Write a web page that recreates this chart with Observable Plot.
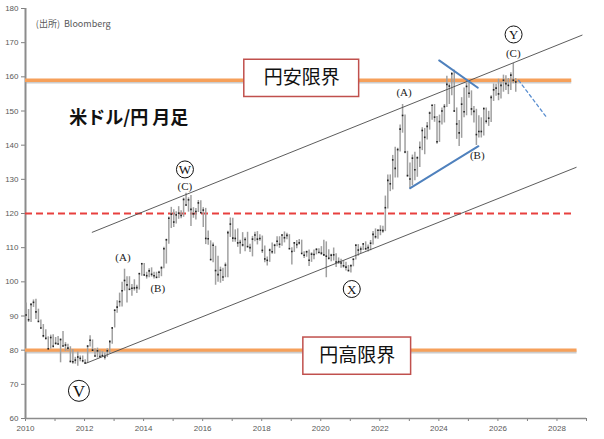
<!DOCTYPE html>
<html>
<head>
<meta charset="utf-8">
<script src="https://cdn.jsdelivr.net/npm/d3@7"></script>
<script src="https://cdn.jsdelivr.net/npm/@observablehq/plot@0.6"></script>
<style>
  html, body { margin: 0; padding: 0; background: #fff; }
  #chart { width: 604px; height: 439px; }
</style>
</head>
<body>
<div id="chart"></div>
<script>
// USD/JPY monthly bars, Jan 2010 onward (one entry per month)
const startYear = 2010;
const high = [
  93.8,91.9,93.5,94.7,94.9,92.0,88.8,87.5,86.0,83.9,84.4,84.5,
  83.7,84.0,83.3,85.5,82.2,81.7,81.0,80.2,77.9,79.5,78.3,78.3,
  77.2,81.2,84.2,83.0,80.4,80.6,79.8,79.6,79.2,80.4,82.8,86.6,
  91.7,94.5,96.7,99.9,103.7,101.5,101.5,99.2,100.6,99.0,102.4,105.4,
  105.4,102.8,103.8,104.1,102.8,102.8,103.1,104.5,110.1,112.5,119.0,121.8,
  121.1,120.5,122.0,120.8,124.5,125.9,124.6,125.3,121.7,121.5,123.8,123.7,
  121.7,121.5,114.9,112.0,111.4,110.4,107.5,104.3,104.0,105.5,114.8,118.7,
  118.6,115.2,115.5,112.2,114.4,112.9,114.5,111.0,113.3,114.5,114.7,113.8,
  113.4,110.5,107.3,109.6,111.4,111.0,113.2,113.2,113.7,114.6,114.2,113.8,
  110.0,111.5,112.1,112.4,112.2,108.8,109.0,109.3,108.5,109.3,109.7,109.7,
  110.3,112.2,111.7,109.4,108.1,109.9,108.2,107.0,106.6,106.1,105.7,104.8,
  105.0,106.7,110.9,110.9,110.2,111.1,111.7,110.8,112.1,114.7,115.5,115.2,
  116.4,116.3,125.1,131.3,131.3,137.0,139.4,139.1,145.9,151.9,148.8,138.2,
  134.8,137.1,137.9,136.6,140.9,145.1,144.9,146.6,149.7,151.7,151.9,148.4,
  148.8,150.9,151.9,160.2,157.9,161.3,161.9,150.9,147.2,153.9,156.7,158.1,
  158.9,155.9,151.3,150.5,148.6,148.0,150.9,150.9,149.9,154.5,157.9,157.8,
  159.3,158.5,160.5,160.3,159.5,161.2,163.9,159.5
];
const low = [
  89.8,88.1,88.1,92.5,89.0,88.2,86.2,83.6,82.9,80.2,80.3,81.1,
  81.5,81.5,76.3,81.0,79.6,79.7,76.3,75.9,75.9,75.3,76.6,76.3,
  76.0,76.1,80.9,79.7,78.0,77.7,77.9,77.9,77.1,77.9,79.0,81.7,
  86.5,90.8,92.6,92.6,97.3,93.8,97.6,95.8,97.3,96.6,97.6,101.6,
  101.8,100.8,101.2,101.4,100.8,101.1,101.0,101.5,103.8,105.2,111.0,115.6,
  115.9,116.9,118.3,118.5,118.9,122.1,120.4,116.2,118.6,118.1,120.3,120.2,
  115.9,110.9,110.7,106.3,105.6,99.0,99.9,99.6,100.1,101.2,101.2,113.0,
  111.6,111.6,110.1,108.1,110.2,108.8,110.0,108.6,107.3,111.7,110.8,111.9,
  108.3,105.6,104.6,105.7,108.1,108.1,110.3,109.8,110.4,111.4,112.3,109.6,
  104.9,108.6,109.7,110.8,108.3,106.8,107.2,104.5,105.7,106.5,107.9,108.4,
  107.7,107.5,101.2,106.4,105.9,106.1,104.2,105.1,104.0,104.0,103.2,102.9,
  102.6,104.4,106.4,107.5,108.3,109.2,109.1,108.7,109.1,110.8,112.5,112.5,
  113.5,114.2,114.7,121.3,126.4,126.9,130.4,130.4,138.0,143.5,137.5,130.6,
  127.2,128.1,129.6,130.6,133.5,138.4,137.2,141.5,144.4,147.3,146.7,140.3,
  140.8,145.9,146.5,151.0,151.9,154.5,149.6,141.7,139.6,142.0,148.0,148.6,
  153.7,148.6,146.5,139.9,142.1,142.1,142.7,146.2,145.5,146.6,152.8,154.3,
  153.0,153.5,155.5,156.0,154.8,156.0,158.0,155.5
];
const close = [
  90.3,88.9,93.4,94.0,91.2,88.4,86.5,84.2,83.5,80.4,83.7,81.1,
  82.0,81.8,83.1,81.2,81.5,80.6,76.7,76.6,77.1,78.0,77.6,76.9,
  76.2,81.2,82.9,80.0,78.3,79.8,78.1,78.4,78.0,79.8,82.5,86.5,
  91.7,92.6,94.2,97.4,100.4,99.1,97.8,98.1,98.2,98.3,102.4,105.3,
  102.0,101.8,103.2,102.2,101.8,101.3,102.8,104.1,109.7,112.3,118.6,119.8,
  117.5,119.6,120.1,119.4,124.1,122.5,124.0,121.2,119.9,120.6,123.1,120.2,
  121.0,112.7,112.6,106.5,110.7,103.3,102.1,103.4,101.4,104.9,114.4,116.9,
  112.8,112.7,111.4,111.5,110.8,112.4,110.3,110.0,112.5,113.7,112.5,112.7,
  109.2,106.7,106.3,109.3,108.8,110.7,111.9,111.0,113.7,112.9,113.6,109.7,
  108.9,111.4,110.9,111.4,108.3,107.8,108.8,106.3,108.1,108.0,109.5,108.6,
  108.4,107.9,107.5,106.9,107.8,107.9,105.8,105.9,105.5,104.7,104.3,103.3,
  104.7,106.6,110.7,109.3,109.6,111.1,109.7,110.0,111.3,113.9,113.2,115.1,
  115.1,115.0,121.7,129.7,128.7,135.7,133.2,138.7,144.7,148.7,138.0,131.1,
  130.1,136.2,132.8,136.3,139.3,144.3,142.3,145.5,149.4,151.7,148.2,141.0,
  146.9,150.0,151.3,157.8,157.3,160.9,150.0,146.2,143.6,152.0,149.8,157.2,
  155.2,150.6,149.9,143.1,144.0,144.0,150.7,147.0,147.9,154.0,156.2,156.7,
  155.0,157.5,159.0,158.0,157.5,160.5,159.0,158.5
];

// reference levels
const yenWeakLimit = 159;   // 円安限界
const yenStrongLimit = 80;  // 円高限界
const midLevel = 120;

// trend lines [year, price]
const upperChannel = [[2012.26, 114.5], [2028.85, 172.2]];
const lowerChannel = [[2012.03, 76.1], [2028.65, 133.5]];
const triangleLow = [[2023.03, 127.4], [2025.34, 139.7]];
const triangleHigh = [[2024.01, 164.8], [2025.32, 156.8]];
const projection = [[2026.70, 159.0], [2027.66, 148.0]];

// wave labels
const waveLabels = [
  {t: "(C)", x: 2015.40, y: 127.9},
  {t: "(A)", x: 2013.30, y: 107.1},
  {t: "(B)", x: 2014.48, y: 98.0},
  {t: "(A)", x: 2022.82, y: 155.4},
  {t: "(B)", x: 2025.30, y: 137.0},
  {t: "(C)", x: 2026.52, y: 166.8}
];
const circledLabels = [
  {t: "W", x: 2015.40, y: 132.9},
  {t: "V", x: 2011.81, y: 68.1},
  {t: "X", x: 2021.05, y: 97.9},
  {t: "Y", x: 2026.53, y: 172.4}
];

// limit boxes
const limitBoxes = [
  {t: "円安限界", x1: 2017.41, x2: 2021.30, y1: 154.1, y2: 165.0},
  {t: "円高限界", x1: 2019.41, x2: 2023.06, y1: 72.8, y2: 83.7}
];

const xTicks = d3.range(2010, 2030);
const yTicks = d3.range(60, 181, 10);

const bars = high.map((h, i) => ({
  x: startYear + (i + 0.25) / 12,
  high: h,
  low: low[i],
  close: close[i]
}));

const seg = (pts) => pts.map(([x, y]) => ({x, y}));
const serif = "'Liberation Serif', 'DejaVu Serif', serif";
const bigCircle = circledLabels.filter(d => d.t === "V");
const smallCircles = circledLabels.filter(d => d.t !== "V");

const chart = Plot.plot({
  width: 604,
  height: 439,
  marginLeft: 25,
  marginRight: 18,
  marginTop: 8,
  marginBottom: 21,
  x: {domain: [2010, 2029], axis: null},
  y: {domain: [60, 180], axis: null},
  style: {fontFamily: "'Liberation Sans', Arial, sans-serif", background: "#fff"},
  marks: [
    // axes
    Plot.axisY({ticks: yTicks, tickSize: 4, tickPadding: 3, fontSize: 8, fill: "#595959", stroke: "#808080"}),
    Plot.axisX({ticks: xTicks, tickFormat: d => d % 2 === 0 ? String(d) : "", tickSize: 3, tickPadding: 4, fontSize: 8, fill: "#595959", stroke: "#808080"}),
    Plot.ruleX([2010], {y1: 60, y2: 180, stroke: "#8c8c8c", strokeWidth: 2}),
    Plot.ruleY([60], {x1: 2010, x2: 2029, stroke: "#8c8c8c", strokeWidth: 1.5}),

    // reference levels
    Plot.ruleY([yenWeakLimit], {x1: 2010, x2: 2028.5, stroke: "#9a9a9a", strokeWidth: 3, dy: 1.8, strokeOpacity: 0.5}),
    Plot.ruleY([yenWeakLimit], {x1: 2010, x2: 2028.5, stroke: "#f6a05a", strokeWidth: 3.4}),
    Plot.ruleY([yenStrongLimit], {x1: 2010, x2: 2028.68, stroke: "#9a9a9a", strokeWidth: 3, dy: 1.8, strokeOpacity: 0.5}),
    Plot.ruleY([yenStrongLimit], {x1: 2010, x2: 2028.68, stroke: "#f6a05a", strokeWidth: 3.4}),
    Plot.ruleY([midLevel], {x1: 2010, x2: 2028.55, stroke: "#e8403e", strokeWidth: 1.8, strokeDasharray: "7,4"}),

    // price bars
    Plot.ruleX(bars, {x: "x", y1: "low", y2: "high", stroke: "#a0a0a0", strokeWidth: 1.5}),
    Plot.dot(bars, {x: "x", y: "close", r: 0.9, fill: "#222", symbol: "square"}),

    // channel lines
    Plot.line(seg(upperChannel), {x: "x", y: "y", stroke: "#4a4a4a", strokeWidth: 0.9}),
    Plot.line(seg(lowerChannel), {x: "x", y: "y", stroke: "#4a4a4a", strokeWidth: 0.9}),
    Plot.line(seg(triangleLow), {x: "x", y: "y", stroke: "#4f81bd", strokeWidth: 2}),
    Plot.line(seg(triangleHigh), {x: "x", y: "y", stroke: "#4f81bd", strokeWidth: 2}),
    Plot.line(seg(projection), {x: "x", y: "y", stroke: "#5b8fd0", strokeWidth: 1.3, strokeDasharray: "3,3"}),

    // limit boxes
    Plot.rect(limitBoxes, {x1: "x1", x2: "x2", y1: "y1", y2: "y2", fill: "#fff", stroke: "#c0504d", strokeWidth: 1.5}),
    Plot.text(limitBoxes, {x: d => (d.x1 + d.x2) / 2, y: d => (d.y1 + d.y2) / 2, text: "t", fontSize: 19, fill: "#111", fontFamily: "'Noto Sans CJK JP', sans-serif"}),

    // wave labels
    Plot.text(waveLabels, {x: "x", y: "y", text: "t", fontSize: 11, fill: "#222", fontFamily: serif}),
    Plot.dot(smallCircles, {x: "x", y: "y", r: 8.5, stroke: "#111", strokeWidth: 1, fill: "#fff"}),
    Plot.dot(bigCircle, {x: "x", y: "y", r: 10.5, stroke: "#111", strokeWidth: 1, fill: "#fff"}),
    Plot.text(smallCircles, {x: "x", y: "y", text: "t", fontSize: 13, fill: "#111", fontFamily: serif, dy: 0.5}),
    Plot.text(bigCircle, {x: "x", y: "y", text: "t", fontSize: 17, fill: "#111", fontFamily: serif, dy: 0.5}),

    // titles
    Plot.text([{t: "(出所)  Bloomberg"}], {x: 2010.35, y: 175.4, text: "t", textAnchor: "start", fontSize: 9, fill: "#595959", fontFamily: "'Noto Sans CJK JP', 'Liberation Sans', sans-serif"}),
    Plot.text([{t: "米ドル/円 月足"}], {x: 2011.48, y: 147.8, text: "t", textAnchor: "start", fontSize: 18, fontWeight: "bold", fill: "#111", fontFamily: "'Noto Sans CJK JP', sans-serif"})
  ]
});
document.getElementById("chart").appendChild(chart);
</script>
</body>
</html>
